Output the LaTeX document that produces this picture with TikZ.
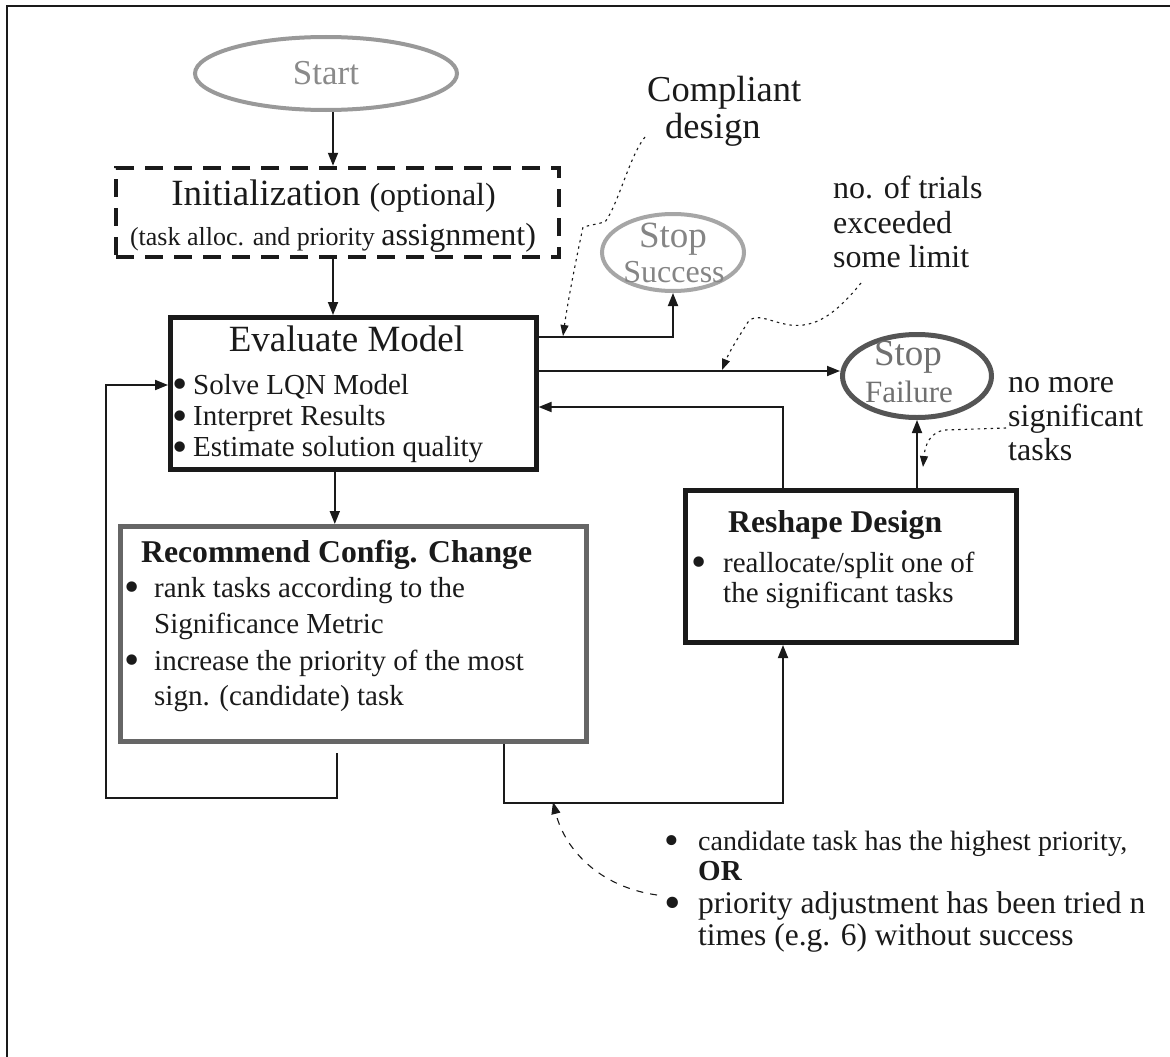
\documentclass[tikz,border=0pt]{standalone}
\usepackage{fontspec}
\setmainfont{Liberation Serif}
\usetikzlibrary{arrows.meta,shapes.geometric,calc}
\newcommand\fsz[1]{\fontsize{#1}{#1}\selectfont}
% a list bullet, a little larger than the font's own, in a box of given width
\newcommand\bul[1]{\makebox[#1][l]{\smash{\raisebox{-0.16em}{\scalebox{1.5}{\textbullet}}}}}
\definecolor{ink}{HTML}{1A1A1A}
\definecolor{startline}{HTML}{999999}
\definecolor{starttext}{HTML}{8A8A8A}
\definecolor{okline}{HTML}{A6A6A6}
\definecolor{oktext}{HTML}{858585}
\definecolor{failline}{HTML}{555555}
\definecolor{failtext}{HTML}{707070}
\definecolor{recline}{HTML}{666666}
\begin{document}
\begin{tikzpicture}[x=1pt,y=-1pt,
  every node/.style={inner sep=0pt},
  flow/.style={draw=ink, line width=1.8pt, -{Triangle[length=13pt,width=10pt]}},
  note/.style={draw=ink, line width=1.1pt, dash pattern=on 2.5pt off 4pt,
               -{Triangle[length=11pt,width=8pt]}},
  longnote/.style={draw=ink, line width=1.1pt, dash pattern=on 7pt off 7pt,
               -{Triangle[length=12pt,width=9pt]}},
  txt/.style={anchor=base west, text=ink},
  ctxt/.style={anchor=base, text=ink},
  boxnode/.style={draw=ink, line width=5pt, rectangle},
]
\useasboundingbox (0,0) rectangle (1170,1057);
\fill[white] (0,0) rectangle (1170,1057);

% outer frame (left and top edges)
\draw[ink, line width=2.2pt] (7,1057) -- (7,6) -- (1170,6);

% ---- shapes ----
\node[ellipse, draw=startline, line width=4pt, minimum width=262pt, minimum height=73pt,
      text=starttext, font=\fsz{35}] (start) at (326,73.5) {Start};

\node[rectangle, draw=ink, line width=4.5pt, dash pattern=on 18pt off 11pt,
      minimum width=443pt, minimum height=89pt] (init) at (337.5,212.5) {};

\node[boxnode, minimum width=365.5pt, minimum height=152pt] (eval) at (353.3,393.5) {};

\node[ellipse, draw=okline, line width=4pt, minimum width=142pt, minimum height=77pt]
      (success) at (673,252.5) {};

\node[ellipse, draw=failline, line width=5pt, minimum width=149pt, minimum height=83pt]
      (failure) at (917,376) {};

\node[boxnode, draw=recline, minimum width=466pt, minimum height=215pt] (rec) at (353.5,634) {};

\node[boxnode, minimum width=331pt, minimum height=152.5pt] (reshape) at (850.5,566.25) {};

% ---- texts inside shapes ----
\node[ctxt] (initA) at (333.5,205) {\fsz{37}Initialization \fsz{32}(optional)};
\node[ctxt] (initB) at (333,245) {\fsz{26}(task alloc. and priority \fsz{32}assignment)};

\node[ctxt] (evalT) at (346.5,351.7) {\fsz{37}Evaluate Model};
\node[txt] (evalA) at (172,394) {\fsz{29}\bul{21pt}Solve LQN Model};
\node[txt] (evalB) at (172,425.7) {\fsz{29}\bul{21pt}Interpret Results};
\node[txt] (evalC) at (172,456.7) {\fsz{29}\bul{21pt}Estimate solution quality};

\node[ctxt, text=oktext] (okA) at (673,247) {\fsz{37}Stop};
\node[ctxt, text=oktext] (okB) at (674,282) {\fsz{32}Success};

\node[ctxt, text=failtext] (failA) at (908,365) {\fsz{37}Stop};
\node[ctxt, text=failtext] (failB) at (909,402) {\fsz{31}Failure};

\node[txt] (recT) at (141,562) {\fsz{31.7}\bfseries Recommend Config. Change};
\node[txt] (recA) at (124,597) {\fsz{29}\bul{30pt}rank tasks according to the};
\node[txt] (recB) at (154,633) {\fsz{29}Significance Metric};
\node[txt] (recC) at (124,670) {\fsz{29}\bul{30pt}increase the priority of the most};
\node[txt] (recD) at (154,705) {\fsz{29}sign. (candidate) task};

\node[txt] (resT) at (728,532) {\fsz{31.7}\bfseries Reshape Design};
\node[txt] (resA) at (691,572) {\fsz{29}\bul{32pt}reallocate/split one of};
\node[txt] (resB) at (723,602) {\fsz{29}the significant tasks};

% ---- annotations ----
\node[txt] (cmpA) at (647,102) {\fsz{36.5}Compliant};
\node[txt] (cmpB) at (665,138) {\fsz{36.5}design};

\node[txt] (trA) at (833,198) {\fsz{32}no. of trials};
\node[txt] (trB) at (833,233) {\fsz{32}exceeded};
\node[txt] (trC) at (833,267) {\fsz{32}some limit};

\node[txt] (nmA) at (1008,392) {\fsz{32}no more};
\node[txt] (nmB) at (1008,426) {\fsz{32}significant};
\node[txt] (nmC) at (1008,460) {\fsz{32}tasks};

\node[txt] (cdA) at (664,850) {\fsz{28}\bul{34pt}candidate task has the highest priority,};
\node[txt] (cdB) at (698,880) {\fsz{29}\bfseries OR};
\node[txt] (cdC) at (664,913) {\fsz{31.5}\bul{34pt}priority adjustment has been tried n};
\node[txt] (cdD) at (698,945) {\fsz{31.5}times (e.g. 6) without success};

% ---- connectors ----
\draw[flow] ([xshift=-4.5pt]init.north |- start.south) -- ([xshift=-4.5pt]init.north);
\draw[flow] ([xshift=-4.5pt]init.south) -- ([xshift=-4.5pt]init.south |- eval.north);
\draw[flow] ([yshift=-22pt]eval.north east) -| (success.south);
\draw[flow] (eval.east |- {$(failure.west)+(0,-5)$}) -- ($(failure.west)+(0,-5)$);
\draw[flow] ([xshift=100.5pt]reshape.north west) |- ([yshift=-13.5pt]eval.east);
\draw[flow] (reshape.north -| failure.south) -- (failure.south);
\draw[flow] ([xshift=-18.5pt]eval.south) -- ([xshift=-18.5pt]eval.south |- rec.north);

\coordinate (loopStart) at (337,753);
\coordinate (loopL) at (106,798);
\draw[flow] (loopStart) |- (loopL) |- ([yshift=8.5pt]eval.west);

\coordinate (loopR) at (783,803);
\draw[flow] ([xshift=150.5pt]rec.south) |- (loopR) -- (loopR |- reshape.south);

% ---- annotation pointers ----
\coordinate (cmpTail) at (645,137);
\coordinate (cmpTip) at (563,336);
\draw[note] (cmpTail) .. controls (630,155) and (618,205) .. (605,222)
  -- (583,227) .. controls (576,260) and (568,300) .. (cmpTip);

\coordinate (trTail) at (861,283);
\coordinate (trTip) at (722,370);
\draw[note] (trTail) .. controls (835,315) and (815,328) .. (790,325)
  .. controls (770,322) and (756,312) .. (748,322)
  .. controls (740,335) and (730,350) .. (trTip);

\coordinate (nmTail) at (1006,428);
\coordinate (nmTip) at (923,467);
\draw[note] (nmTail) -- (945,430) .. controls (930,432) and (925,445) .. (nmTip);

\coordinate (cdTail) at (657,895);
\coordinate (cdTip) at (553,802);
\draw[longnote] (cdTail) .. controls (600,887) and (565,850) .. (cdTip);

\end{tikzpicture}
\end{document}
